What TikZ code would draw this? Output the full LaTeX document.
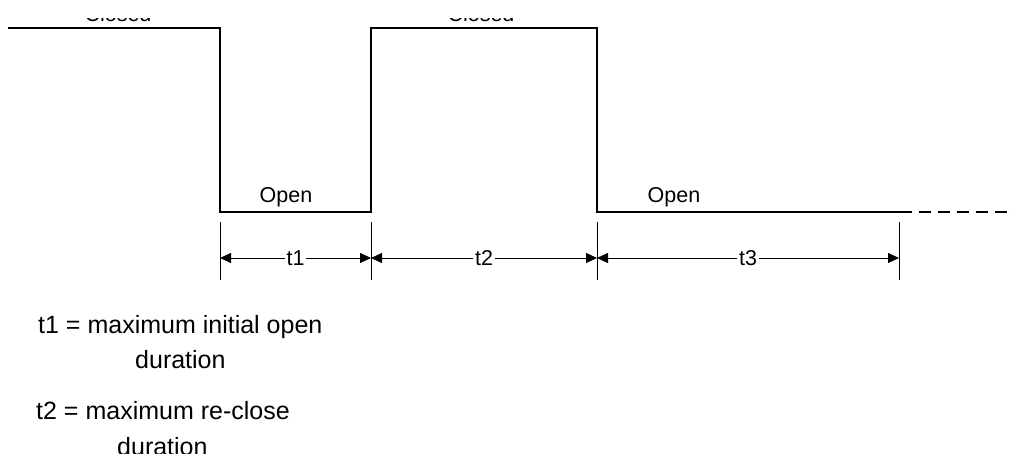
\documentclass[tikz,border=0pt]{standalone}
\usepackage{fontspec}
\setmainfont{Liberation Sans}
\usetikzlibrary{arrows.meta}

\begin{document}
\begin{tikzpicture}[x=1pt,y=-1pt,
    wave/.style={line width=1.6pt},
    tick/.style={line width=0.9pt},
    span/.style={line width=0.9pt,
      {Triangle[length=11pt,width=10pt]}-{Triangle[length=11pt,width=10pt]}},
    lbl/.style={font=\fontsize{21.5}{26}\selectfont, inner sep=2pt},
    legend/.style={font=\fontsize{25}{30}\selectfont, inner sep=0pt}
  ]
  \useasboundingbox (0,0) rectangle (1014,453);
  \clip (0,0) rectangle (1014,453);

  \coordinate (w0) at (8,28);
  \coordinate (w1) at (220,28);
  \coordinate (w2) at (220,212);
  \coordinate (w3) at (371,212);
  \coordinate (w4) at (371,28);
  \coordinate (w5) at (597,28);
  \coordinate (w6) at (597,212);
  \coordinate (w7) at (912,212);
  \coordinate (wend) at (1016,212);

  \draw[wave] (w0) -- (w1) -- (w2) -- (w3) -- (w4) -- (w5) -- (w6) -- (w7);
  \draw[wave, dash pattern=on 12.5pt off 6.5pt, dash phase=12.5pt] (w7) -- (wend);

  % the state names above the high level are cut by the top edge
  \begin{scope}
    \clip (0,18) rectangle (1014,453);
    \node[lbl, anchor=base] (closed1) at (118,21) {Closed};
    \node[lbl, anchor=base] (closed2) at (481,21) {Closed};
  \end{scope}
  \node[lbl] (open1) at (286,197) {Open};
  \node[lbl] (open2) at (674,197) {Open};

  \foreach \x/\n in {220/a,371/b,597/c,899/d} {
    \coordinate (\n top) at (\x,222);
    \coordinate (\n bot) at (\x,280);
    \coordinate (\n) at (\x,258);
    \draw[tick] (\n top) -- (\n bot);
  }

  \draw[span] (a) -- node[lbl, fill=white] {t1} (b);
  \draw[span] (b) -- node[lbl, fill=white] {t2} (c);
  \draw[span] (c) -- node[lbl, fill=white] {t3} (d);

  \node[legend, anchor=base west] (def1) at (38,333) {t1 = maximum initial open};
  \node[legend, anchor=base west] (dur1) at (135,368) {duration};
  \node[legend, anchor=base west] (def2) at (36,419) {t2 = maximum re-close};
  \node[legend, anchor=base west] (dur2) at (117,455) {duration};
\end{tikzpicture}
\end{document}
